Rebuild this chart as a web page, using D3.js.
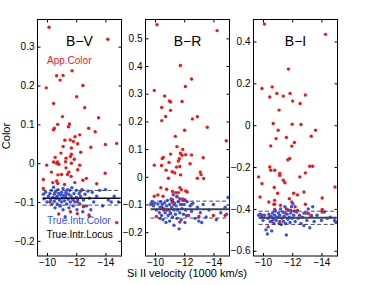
<!DOCTYPE html>
<html>
<head>
<meta charset="utf-8">
<script src="https://d3js.org/d3.v7.min.js"></script>
<style>
  body { margin: 0; background: #fff; }
  text { font-family: "Liberation Sans", Arial, sans-serif; }
</style>
</head>
<body>
<div id="div-grafico"></div>
<script>

// velocity ticks shared by the three panels
var velTicks = [-10, -12, -14];

// B-V panel
var bvTicks = [-0.2, -0.1, 0, 0.1, 0.2, 0.3];
var bvApp = [
  [-10.14, 0.350], [-14.16, 0.319], [-11.72, 0.238], [-10.66, 0.225], [-11.1, 0.226],
  [-10.9, 0.214], [-9.95, 0.194], [-12.46, 0.200], [-12.03, 0.171], [-10.45, 0.154],
  [-12.58, 0.143], [-11.06, 0.120], [-13.53, 0.117], [-10.73, 0.100], [-11.54, 0.101],
  [-11.47, 0.094], [-10.5, 0.090], [-10.45, 0.086], [-12.85, 0.090], [-13.3, 0.081],
  [-12.24, 0.073], [-11.92, 0.068], [-11.59, 0.060], [-11.22, 0.059], [-11.81, 0.056],
  [-12.1, 0.050], [-14.0, 0.048], [-14.77, 0.051], [-11.1, 0.043], [-11.67, 0.039],
  [-13.0, 0.041], [-10.96, 0.026], [-11.67, 0.023], [-12.31, 0.028], [-11.6, 0.017],
  [-10.56, 0.015], [-11.3, 0.013], [-11.87, 0.010], [-10.45, 0.003], [-10.72, 0.003],
  [-10.66, 0.0], [-11.27, 0.004], [-11.67, 0.0], [-12.24, -0.005], [-9.98, -0.005],
  [-10.81, -0.003], [-11.3, -0.012], [-12.1, -0.017], [-11.5, -0.023], [-10.3, -0.023],
  [-11.0, -0.029], [-11.4, -0.029], [-11.65, -0.034], [-10.75, -0.030], [-12.7, -0.039],
  [-13.98, -0.026], [-10.66, -0.046], [-9.75, -0.042], [-12.46, -0.044], [-10.4, -0.050],
  [-10.74, -0.052], [-11.2, -0.055], [-11.9, -0.050], [-13.4, -0.053], [-9.75, -0.065],
  [-10.56, -0.075], [-10.8, -0.131], [-12.08, -0.130], [-12.87, -0.133], [-12.9, -0.137],
  [-14.77, -0.153], [-10.6, -0.090], [-10.9, -0.110], [-11.3, -0.080], [-11.8, -0.095],
  [-12.1, -0.100], [-12.5, -0.112], [-10.2, -0.100], [-11.6, -0.125], [-12.3, -0.072]
];
var bvTrue = [
  [-9.75, -0.080], [-9.8, -0.092], [-9.9, -0.075], [-10.0, -0.100], [-10.1, -0.085],
  [-10.2, -0.078], [-10.25, -0.095], [-10.3, -0.070], [-10.35, -0.105], [-10.4, -0.088],
  [-10.45, -0.062], [-10.5, -0.080], [-10.5, -0.098], [-10.55, -0.115], [-10.6, -0.072],
  [-10.65, -0.090], [-10.7, -0.085], [-10.7, -0.105], [-10.75, -0.068], [-10.8, -0.078],
  [-10.85, -0.095], [-10.9, -0.110], [-10.95, -0.082], [-11.0, -0.075], [-11.0, -0.100],
  [-11.05, -0.090], [-11.1, -0.065], [-11.1, -0.120], [-11.15, -0.083], [-11.2, -0.097],
  [-11.25, -0.138], [-11.3, -0.075], [-11.3, -0.088], [-11.35, -0.105], [-11.4, -0.068],
  [-11.45, -0.093], [-11.5, -0.080], [-11.5, -0.115], [-11.55, -0.070], [-11.6, -0.100],
  [-11.65, -0.085], [-11.7, -0.063], [-11.75, -0.092], [-11.8, -0.110], [-11.85, -0.078],
  [-11.9, -0.100], [-12.0, -0.070], [-12.0, -0.088], [-12.05, -0.120], [-12.1, -0.095],
  [-12.2, -0.078], [-12.25, -0.105], [-12.3, -0.085], [-12.4, -0.068], [-12.45, -0.125],
  [-12.5, -0.095], [-12.6, -0.080], [-12.7, -0.110], [-12.8, -0.072], [-12.9, -0.090],
  [-13.0, -0.120], [-13.1, -0.075], [-13.2, -0.100], [-13.4, -0.085], [-13.6, -0.070],
  [-13.8, -0.110], [-14.0, -0.068], [-14.2, -0.095], [-14.4, -0.100], [-14.6, -0.085],
  [-14.9, -0.100]
];
var bvLocus = [-0.108, -0.090, -0.070];

// B-R panel
var brTicks = [-0.2, -0.1, 0, 0.1, 0.2, 0.3, 0.4, 0.5];
var brApp = [
  [-10.14, 0.549], [-14.25, 0.528], [-11.74, 0.402], [-12.5, 0.353], [-12.08, 0.326],
  [-9.95, 0.312], [-10.66, 0.292], [-10.98, 0.274], [-11.07, 0.270], [-11.85, 0.272],
  [-10.46, 0.250], [-11.07, 0.240], [-12.9, 0.217], [-12.56, 0.209], [-10.73, 0.218],
  [-10.46, 0.203], [-12.03, 0.168], [-13.58, 0.179], [-11.39, 0.146], [-11.5, 0.109],
  [-11.9, 0.099], [-11.07, 0.082], [-11.74, 0.085], [-11.85, 0.078], [-12.1, 0.080],
  [-12.5, 0.079], [-10.57, 0.070], [-10.5, 0.066], [-13.3, 0.069], [-14.88, 0.130],
  [-11.67, 0.065], [-11.6, 0.057], [-10.96, 0.052], [-9.95, 0.042], [-10.45, 0.041],
  [-12.4, 0.047], [-11.7, 0.037], [-11.47, 0.035], [-10.76, 0.024], [-11.18, 0.018],
  [-11.35, 0.014], [-11.75, 0.007], [-13.1, 0.017], [-13.15, 0.008], [-10.92, -0.005],
  [-12.9, -0.005], [-13.33, -0.006], [-10.4, -0.039], [-10.8, -0.045], [-11.7, -0.039],
  [-11.8, -0.047], [-11.2, -0.053], [-11.43, -0.057], [-11.6, -0.057], [-12.1, -0.051],
  [-12.2, -0.055], [-9.95, -0.070], [-10.2, -0.066], [-10.55, -0.070], [-11.5, -0.072],
  [-11.7, -0.079], [-11.9, -0.085], [-12.05, -0.083], [-11.2, -0.083], [-11.2, -0.092],
  [-11.3, -0.100], [-11.83, -0.100], [-9.73, -0.097], [-9.85, -0.100], [-12.5, -0.100],
  [-10.45, -0.110], [-10.6, -0.120], [-10.8, -0.120], [-11.06, -0.133], [-10.1, -0.143],
  [-10.35, -0.150], [-11.7, -0.163], [-12.15, -0.140], [-13.0, -0.143], [-14.0, -0.140],
  [-14.8, -0.140]
];
var brTrue = [
  [-9.7, -0.100], [-9.8, -0.090], [-9.9, -0.105], [-10.0, -0.095], [-10.1, -0.120],
  [-10.2, -0.098], [-10.3, -0.130], [-10.35, -0.110], [-10.4, -0.090], [-10.45, -0.140],
  [-10.5, -0.100], [-10.55, -0.155], [-10.6, -0.115], [-10.65, -0.095], [-10.7, -0.130],
  [-10.75, -0.165], [-10.8, -0.105], [-10.85, -0.085], [-10.9, -0.140], [-10.95, -0.120],
  [-11.0, -0.100], [-11.0, -0.160], [-11.05, -0.130], [-11.1, -0.080], [-11.15, -0.110],
  [-11.2, -0.145], [-11.25, -0.065], [-11.3, -0.120], [-11.3, -0.175], [-11.35, -0.095],
  [-11.4, -0.135], [-11.45, -0.105], [-11.5, -0.070], [-11.5, -0.150], [-11.55, -0.120],
  [-11.6, -0.090], [-11.65, -0.188], [-11.7, -0.130], [-11.75, -0.100], [-11.8, -0.155],
  [-11.85, -0.115], [-11.9, -0.080], [-11.95, -0.135], [-12.0, -0.100], [-12.05, -0.165],
  [-12.1, -0.120], [-12.2, -0.090], [-12.3, -0.140], [-12.4, -0.105], [-12.5, -0.125],
  [-12.6, -0.095], [-12.75, -0.150], [-12.9, -0.110], [-13.0, -0.160], [-13.1, -0.130],
  [-13.2, -0.165], [-13.3, -0.100], [-13.5, -0.145], [-13.7, -0.120], [-14.0, -0.100],
  [-14.2, -0.155], [-14.5, -0.130], [-14.8, -0.110], [-15.0, -0.075], [-14.9, -0.135]
];
var brLocus = [-0.149, -0.117, -0.088];

// B-I panel
var biTicks = [-0.6, -0.4, -0.2, 0, 0.2, 0.4];
var biApp = [
  [-10.1, 0.483], [-14.28, 0.434], [-11.74, 0.268], [-10.63, 0.183], [-9.93, 0.175],
  [-11.85, 0.152], [-10.95, 0.152], [-12.9, 0.144], [-10.46, 0.135], [-11.39, 0.139],
  [-12.03, 0.115], [-12.54, 0.104], [-11.1, 0.072], [-10.7, 0.008], [-12.0, 0.005],
  [-12.6, 0.003], [-13.6, -0.024], [-11.04, -0.024], [-10.9, -0.064], [-11.6, -0.059],
  [-13.3, -0.053], [-12.15, -0.083], [-11.97, -0.100], [-10.53, -0.099], [-11.83, -0.159],
  [-11.7, -0.165], [-9.7, -0.247], [-10.46, -0.200], [-10.53, -0.215], [-10.8, -0.215],
  [-11.15, -0.231], [-11.15, -0.240], [-13.2, -0.196], [-13.4, -0.196], [-12.9, -0.228],
  [-12.52, -0.247], [-11.39, -0.263], [-11.5, -0.275], [-9.93, -0.279], [-14.93, -0.295],
  [-10.77, -0.298], [-12.8, -0.319], [-12.1, -0.325], [-12.36, -0.333], [-11.0, -0.325],
  [-9.8, -0.343], [-14.05, -0.348], [-11.8, -0.351], [-10.4, -0.367], [-10.8, -0.359],
  [-11.97, -0.367], [-10.75, -0.378], [-10.8, -0.378], [-12.9, -0.378], [-12.2, -0.390],
  [-11.2, -0.383], [-11.6, -0.400], [-10.8, -0.403], [-14.05, -0.403], [-11.9, -0.407],
  [-12.15, -0.410], [-12.35, -0.407], [-12.8, -0.420], [-13.1, -0.422], [-13.3, -0.430],
  [-9.95, -0.430], [-10.45, -0.437], [-10.6, -0.460], [-10.35, -0.486], [-11.15, -0.460],
  [-14.05, -0.415], [-14.95, -0.460], [-11.5, -0.420]
];
var biTrue = [
  [-9.7, -0.430], [-9.8, -0.425], [-9.9, -0.440], [-10.0, -0.455], [-10.1, -0.430],
  [-10.2, -0.500], [-10.3, -0.520], [-10.35, -0.445], [-10.4, -0.425], [-10.5, -0.460],
  [-10.55, -0.435], [-10.6, -0.505], [-10.65, -0.420], [-10.7, -0.450], [-10.75, -0.470],
  [-10.8, -0.430], [-10.85, -0.410], [-10.9, -0.455], [-11.0, -0.440], [-11.05, -0.420],
  [-11.1, -0.470], [-11.15, -0.430], [-11.2, -0.400], [-11.25, -0.475], [-11.3, -0.445],
  [-11.35, -0.415], [-11.4, -0.460], [-11.45, -0.435], [-11.5, -0.390], [-11.55, -0.470],
  [-11.6, -0.525], [-11.65, -0.425], [-11.7, -0.450], [-11.75, -0.405], [-11.8, -0.440],
  [-11.85, -0.465], [-11.9, -0.420], [-11.95, -0.390], [-12.0, -0.445], [-12.05, -0.375],
  [-12.1, -0.430], [-12.2, -0.460], [-12.3, -0.415], [-12.4, -0.445], [-12.5, -0.430],
  [-12.6, -0.470], [-12.7, -0.440], [-12.8, -0.480], [-12.9, -0.420], [-13.0, -0.455],
  [-13.1, -0.400], [-13.2, -0.490], [-13.3, -0.435], [-13.4, -0.390], [-13.5, -0.460],
  [-13.7, -0.430], [-14.0, -0.455], [-14.2, -0.415], [-14.4, -0.445], [-14.6, -0.440],
  [-14.9, -0.455], [-15.0, -0.465]
];
var biLocus = [-0.474, -0.442, -0.411];

var panels = [
  { name: "B\u2212V", ticks: bvTicks, domain: [-0.239, 0.37], app: bvApp, tru: bvTrue, locus: bvLocus, solid: "#111", sw: 1.5 },
  { name: "B\u2212R", ticks: brTicks, domain: [-0.286, 0.568], app: brApp, tru: brTrue, locus: brLocus, solid: "#444", sw: 2 },
  { name: "B\u2212I", ticks: biTicks, domain: [-0.625, 0.505], app: biApp, tru: biTrue, locus: biLocus, solid: "#444", sw: 2 }
];

// layout (note: "top" is reserved on window, so use plotTop)
var W = 378, H = 285;
var lefts = [37.5, 145.5, 253.5];
var pw = 84, plotTop = 19.5, plotBottom = 256;

var svg = d3.select("#div-grafico").append("svg")
  .attr("width", W)
  .attr("height", H);

var x = d3.scaleLinear().domain([-9.35, -15.1]).range([0, pw]);

var fmtY = function (d) { return d === 0 ? "0" : d3.format(".1f")(d); };

panels.forEach(function (p, i) {
  var g = svg.append("g").attr("transform", "translate(" + lefts[i] + "," + plotTop + ")");
  var h = plotBottom - plotTop;
  var y = d3.scaleLinear().domain(p.domain).range([h, 0]);

  // red apparent colours
  g.selectAll(".app").data(p.app).enter().append("circle")
    .attr("class", "app")
    .attr("cx", function (d) { return x(d[0]); })
    .attr("cy", function (d) { return y(d[1]); })
    .attr("r", 1.7)
    .attr("fill", "#f21515");

  // blue true intrinsic colours
  g.selectAll(".tru").data(p.tru).enter().append("circle")
    .attr("class", "tru")
    .attr("cx", function (d) { return x(d[0]); })
    .attr("cy", function (d) { return y(d[1]); })
    .attr("r", 1.7)
    .attr("fill", "#2f52f5");

  // locus: solid mean, dashed bounds
  p.locus.forEach(function (v, k) {
    g.append("line")
      .attr("x1", x(-9.7)).attr("x2", x(-15.05))
      .attr("y1", y(v)).attr("y2", y(v))
      .attr("stroke", k === 1 ? p.solid : "#333")
      .attr("stroke-width", k === 1 ? p.sw : 0.9)
      .attr("stroke-dasharray", k === 1 ? null : "4,2.5");
  });

  // axes with inward ticks on all sides
  var ax = function (a) { a.select(".domain").remove(); a.selectAll("line").attr("stroke", "#000"); };
  g.append("g").call(d3.axisLeft(y).tickValues(p.ticks).tickFormat(fmtY).tickSize(-3).tickPadding(3))
    .call(ax).selectAll("text").attr("font-size", 10).attr("fill", "#000").style("font-family", "Liberation Sans, Arial, sans-serif");
  g.append("g").attr("transform", "translate(" + pw + ",0)")
    .call(d3.axisRight(y).tickValues(p.ticks).tickFormat("").tickSize(-3)).call(ax);
  g.append("g").attr("transform", "translate(0," + h + ")")
    .call(d3.axisBottom(x).tickValues(velTicks).tickFormat(d3.format("d")).tickSize(-3).tickPadding(3))
    .call(ax).selectAll("text").attr("font-size", 10).attr("fill", "#000").style("font-family", "Liberation Sans, Arial, sans-serif");
  g.append("g")
    .call(d3.axisTop(x).tickValues(velTicks).tickFormat("").tickSize(-3)).call(ax);

  g.append("rect")
    .attr("width", pw).attr("height", h)
    .attr("fill", "none").attr("stroke", "#000").attr("stroke-width", 1);

  g.append("text")
    .attr("x", pw / 2).attr("y", 26)
    .attr("text-anchor", "middle")
    .attr("font-size", 14)
    .text(p.name);
});

// legend texts inside B-V panel
svg.append("text").attr("x", 47).attr("y", 64).attr("font-size", 10).attr("fill", "#f21515").text("App.Color");
svg.append("text").attr("x", 47).attr("y", 224).attr("font-size", 10).attr("fill", "#2f52f5").text("True.Intr.Color");
svg.append("text").attr("x", 46.5).attr("y", 238).attr("font-size", 10).attr("fill", "#000").text("True.Intr.Locus");

// axis titles
svg.append("text")
  .attr("transform", "translate(10,136) rotate(-90)")
  .attr("text-anchor", "middle")
  .attr("font-size", 11)
  .text("Color");
svg.append("text")
  .attr("x", 187).attr("y", 277)
  .attr("text-anchor", "middle")
  .attr("font-size", 11)
  .text("Si II velocity (1000 km/s)");

</script>
</body>
</html>
